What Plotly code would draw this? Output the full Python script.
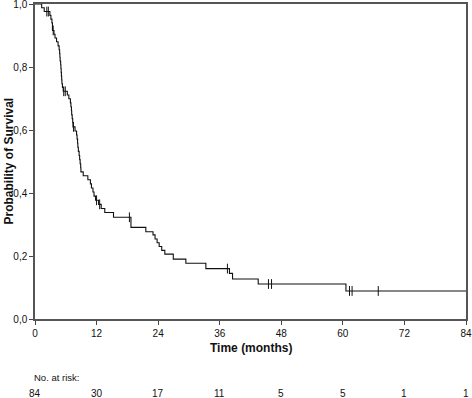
import numpy as np
import plotly.graph_objects as go

# Kaplan-Meier step estimates (time in months, survival after the step)
step_times = [0, 1.3, 1.8, 2.9, 3.1, 3.3, 3.4, 3.7, 3.9, 4.2, 4.5, 4.7, 4.8, 4.85, 4.9,
              5.0, 5.05, 5.1, 5.15, 5.2, 5.25, 5.35, 5.5, 6.3, 6.6, 6.9, 7.0, 7.1, 7.15,
              7.25, 7.35, 7.4, 7.8, 8.1, 8.2, 8.3, 8.35, 8.45, 8.6, 8.7, 8.8, 8.9, 8.95,
              9.4, 10.3, 10.8, 11.0, 11.3, 11.5, 11.8, 12.4, 12.9, 13.6, 15.3, 18.7,
              21.6, 23.0, 23.4, 23.8, 24.2, 24.7, 25.3, 26.95, 29.4, 33.3, 37.9, 38.5,
              43.5, 60.6]
survival = [1.000, 0.988, 0.976, 0.964, 0.952, 0.940, 0.916, 0.904, 0.892, 0.880, 0.867,
            0.855, 0.843, 0.831, 0.819, 0.807, 0.795, 0.783, 0.771, 0.759, 0.747, 0.735,
            0.723, 0.711, 0.699, 0.686, 0.674, 0.661, 0.648, 0.636, 0.623, 0.610, 0.597,
            0.584, 0.571, 0.558, 0.545, 0.532, 0.519, 0.506, 0.493, 0.480, 0.467, 0.455,
            0.442, 0.429, 0.416, 0.403, 0.390, 0.377, 0.364, 0.351, 0.338, 0.323, 0.291,
            0.277, 0.267, 0.254, 0.242, 0.230, 0.218, 0.206, 0.190, 0.177, 0.160, 0.145,
            0.127, 0.111, 0.089]
censor_times = [2.3, 2.6, 3.55, 5.6, 5.9, 7.5, 12.0, 12.6, 18.4, 37.5, 45.5, 46.1,
                61.3, 61.8, 66.9]
end_time = 84

x_ticks = [0, 12, 24, 36, 48, 60, 72, 84]
y_ticks = [0.0, 0.2, 0.4, 0.6, 0.8, 1.0]
y_tick_text = ["0,0", "0,2", "0,4", "0,6", "0,8", "1,0"]
at_risk = [84, 30, 17, 11, 5, 5, 1, 1]

xs = list(step_times) + [end_time]
ys = list(survival) + [survival[-1]]

st = np.array(step_times)
sv = np.array(survival)
cens_y = [float(sv[np.searchsorted(st, c, side="right") - 1]) for c in censor_times]

FONT = "Liberation Sans, Arial, sans-serif"
fig = go.Figure()
fig.add_trace(go.Scatter(x=xs, y=ys, mode="lines", line=dict(shape="hv", color="#111", width=1.1),
                         hoverinfo="skip", showlegend=False, cliponaxis=False))
fig.add_trace(go.Scatter(x=censor_times, y=cens_y, mode="markers",
                         marker=dict(symbol="line-ns", size=7, line=dict(color="#111", width=1)),
                         hoverinfo="skip", showlegend=False))

H_PLOT = 315
W_PLOT = 431
for t, n in zip(x_ticks, at_risk):
    fig.add_annotation(x=t, y=-(393 - 319) / H_PLOT, xref="x", yref="paper", text=str(n),
                       showarrow=False, font=dict(family=FONT, size=10, color="#111"),
                       xanchor="center", yanchor="middle")
fig.add_annotation(x=0, y=-(377 - 319) / H_PLOT, xref="x", yref="paper", text="No. at risk:",
                   showarrow=False, font=dict(family=FONT, size=9.5, color="#111"),
                   xanchor="left", yanchor="middle", xshift=-3)
fig.add_annotation(x=0.5, y=-(348 - 319) / H_PLOT, xref="paper", yref="paper",
                   text="<b>Time (months)</b>", showarrow=False,
                   font=dict(family=FONT, size=12, color="#111"), xanchor="center", yanchor="middle")
fig.add_annotation(x=-(35 - 8) / W_PLOT, y=0.5, xref="paper", yref="paper",
                   text="<b>Probability of Survival</b>", showarrow=False, textangle=-90,
                   font=dict(family=FONT, size=12, color="#111"), xanchor="center", yanchor="middle")

fig.update_layout(
    width=472, height=398,
    margin=dict(l=35, r=6, t=4, b=79),
    paper_bgcolor="white", plot_bgcolor="white",
    font=dict(family=FONT, size=10, color="#111"),
    xaxis=dict(range=[0, 84], tickvals=x_ticks, ticktext=[str(v) for v in x_ticks],
               ticks="outside", ticklen=4, tickcolor="#444", showgrid=False, zeroline=False,
               showline=True, mirror=True, linecolor="#555", linewidth=1.5,
               tickfont=dict(size=10), automargin=False, ticklabeloverflow="allow"),
    yaxis=dict(range=[0, 1], tickvals=y_ticks, ticktext=y_tick_text,
               ticks="outside", ticklen=4, tickcolor="#444", showgrid=False, zeroline=False,
               showline=True, mirror=True, linecolor="#555", linewidth=1.5,
               tickfont=dict(size=10), automargin=False, ticklabeloverflow="allow"),
)
fig.write_html("out.html", config={"displayModeBar": False},
               post_script="document.body.style.margin='0';document.body.style.overflow='hidden';")
